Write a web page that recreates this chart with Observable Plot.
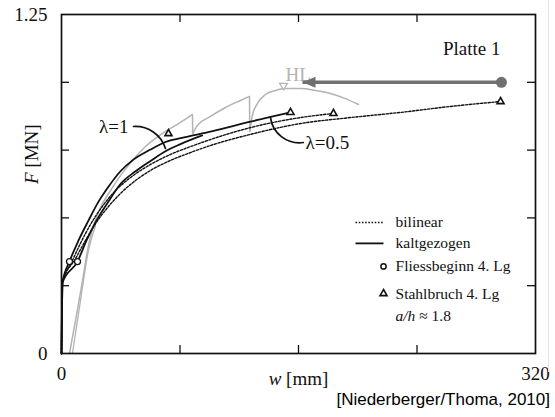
<!DOCTYPE html>
<html><head><meta charset="utf-8">
<script src="https://cdn.jsdelivr.net/npm/d3@7"></script>
<script src="https://cdn.jsdelivr.net/npm/@observablehq/plot@0.6"></script>
<style>
body{margin:0;background:#fff;width:555px;height:417px;overflow:hidden;position:relative}
#cap{position:absolute;top:390px;right:5px;font:17px "Liberation Sans",Arial,sans-serif;line-height:20px;color:#000;white-space:nowrap}
#edge{position:absolute;left:548px;top:0;width:1px;height:372px;background:#e4e4e4}
</style></head><body>
<div id="chart"></div><div id="edge"></div><div id="cap">[Niederberger/Thoma, 2010]</div>
<script>
// ---- data (w in mm, F in MN) ----
const kaltLambda1 = [[0,0],[0.7,0.262],[5.4,0.339],[11.5,0.417],[18.2,0.490],[25.0,0.560],[31.7,0.615],[39.8,0.672],[47.9,0.712],[60.1,0.752],[70.2,0.780],[83.7,0.798],[100.6,0.818],[127.6,0.855],[154.6,0.889]];
const kaltLambda05 = [[0,0],[0.7,0.262],[10.8,0.339],[16.9,0.417],[23.6,0.490],[31.1,0.555],[39.8,0.625],[50.0,0.672],[60.1,0.710],[70.2,0.746],[80.3,0.772],[95.0,0.804]];
const bilinLambda1 = [[0,0],[0.7,0.262],[6.8,0.336],[12.8,0.406],[19.6,0.476],[27.0,0.538],[35.8,0.597],[46.6,0.649],[60.1,0.697],[73.6,0.734],[87.1,0.763],[100.6,0.789],[127.6,0.833],[161.4,0.870],[183.6,0.885]];
const bilinLambda05 = [[0,0],[0.7,0.262],[9.5,0.350],[16.2,0.417],[23.0,0.479],[31.1,0.538],[39.8,0.590],[50.0,0.638],[60.1,0.675],[73.6,0.712],[87.1,0.741],[100.6,0.767],[127.6,0.808],[161.4,0.848],[195.1,0.870],[228.9,0.889],[262.6,0.911],[296.4,0.929]];
// experiment (grey): three loading branches separated by steel ruptures
const versuch1 = [[5.4,0],[9.5,0.122],[14.2,0.269],[18.2,0.398],[21.6,0.472],[26.3,0.538],[33.1,0.601],[39.8,0.656],[47.9,0.712],[56.7,0.763],[70.2,0.819],[80.3,0.852],[88.4,0.881]];
const versuch2 = [[88.6,0.811],[91.8,0.841],[100.6,0.874],[110.7,0.907],[120.8,0.933],[126.9,0.948]];
const versuch3 = [[127.1,0.819],[128.9,0.878],[132.3,0.922],[137.7,0.955],[144.5,0.970],[151.2,0.977],[161.4,0.977],[171.5,0.970],[181.6,0.959],[191.7,0.940],[200.5,0.918]];
const versuchDrops = [[88.4,0.881,88.6,0.811],[126.9,0.948,127.1,0.819]];
const versuchB = [[7.4,0],[12.8,0.195],[18.2,0.380],[23.0,0.472]];
const fliessbeginn = [[5.4,0.339],[10.8,0.339]];
const stahlbruch = [[72.2,0.811],[154.6,0.889],[183.6,0.885],[296.4,0.929]];
const hlPoint = [[149.9,0.985]];
const hlArrow = {from:[297.0,1.0], to:[162.7,1.0]};
const xTicks = [80,160,240];
const yTicks = [0.25,0.5,0.75,1.0];
const xTickLabels = [0,320];
const yTickLabels = [0,1.25];
const legendLabels = ["bilinear","kaltgezogen","Fliessbeginn 4. Lg","Stahlbruch 4. Lg","a/h ≈ 1.8"];

// ---- layout (annotation positions in data units) ----
const LEG = {x1:198.5, x2:217.4, xText:225.5, rows:[0.483,0.406,0.321,0.221,0.140]};
const rows = p => p.map(([w,F]) => ({w,F}));
const W = 555, H = 390, ML = 61, MR = 20, MT = 14, MB = 37;
const IW = W-ML-MR, IH = H-MT-MB, TL = 8;

const leftTri = {draw(c){c.moveTo(0,0);c.lineTo(13,-5.5);c.lineTo(13,5.5);c.closePath();}};
const downTri = {draw(c){c.moveTo(-4,-3);c.lineTo(4,-3);c.lineTo(0,3.5);c.closePath();}};

const grey = "#b3b3b3", arrowGrey = "#707070";
const dash = "2.2,1.6";
const C = "monotone-x";

const plot = Plot.plot({
  width: W, height: H,
  marginLeft: ML, marginRight: MR, marginTop: MT, marginBottom: MB,
  x: {domain:[0,320]}, y: {domain:[0,1.25]},
  style: {fontFamily:"'Liberation Serif','Times New Roman',serif", fontSize:"19px", color:"#111", background:"#fff"},
  marks: [
    Plot.line(rows(versuch1), {x:"w", y:"F", stroke:grey, strokeWidth:1.5, curve:C}),
    Plot.line(rows(versuch2), {x:"w", y:"F", stroke:grey, strokeWidth:1.5, curve:C}),
    Plot.line(rows(versuch3), {x:"w", y:"F", stroke:grey, strokeWidth:1.5, curve:C}),
    Plot.link(versuchDrops, {x1:d=>d[0], y1:d=>d[1], x2:d=>d[2], y2:d=>d[3], stroke:grey, strokeWidth:1.5}),
    Plot.line(rows(versuchB), {x:"w", y:"F", stroke:grey, strokeWidth:1.3, curve:C}),
    Plot.line(rows(bilinLambda1), {x:"w", y:"F", stroke:"#111", strokeWidth:1.4, strokeDasharray:dash, curve:C}),
    Plot.line(rows(bilinLambda05), {x:"w", y:"F", stroke:"#111", strokeWidth:1.4, strokeDasharray:dash, curve:C}),
    Plot.line(rows(kaltLambda05), {x:"w", y:"F", stroke:"#111", strokeWidth:1.8, curve:C}),
    Plot.line(rows(kaltLambda1), {x:"w", y:"F", stroke:"#111", strokeWidth:1.8, curve:C}),
    Plot.dot(rows(fliessbeginn), {x:"w", y:"F", r:3, fill:"#fff", stroke:"#111", strokeWidth:1.3}),
    Plot.dot(rows(stahlbruch), {x:"w", y:"F", symbol:"triangle", r:2.6, fill:"#fff", stroke:"#111", strokeWidth:1.6}),
    // HL marker and arrow
    Plot.dot(rows(hlPoint), {x:"w", y:"F", symbol:downTri, fill:"#fff", stroke:grey, strokeWidth:1.2}),
    Plot.text(rows(hlPoint), {x:"w", y:"F", text:()=>"HL", fill:grey, textAnchor:"start", dx:2, dy:-11, fontSize:19}),
    Plot.link([hlArrow], {x1:d=>d.from[0], y1:d=>d.from[1], x2:d=>d.to[0], y2:d=>d.to[1], stroke:arrowGrey, strokeWidth:3.5, insetEnd:8}),
    Plot.dot([hlArrow.to], {x:d=>d[0], y:d=>d[1], symbol:leftTri, fill:arrowGrey}),
    Plot.dot([hlArrow.from], {x:d=>d[0], y:d=>d[1], r:5.5, fill:arrowGrey}),
    // lambda labels
    Plot.text([{w:45.2,F:0.837,t:"λ=1"}], {x:"w", y:"F", text:"t", textAnchor:"end"}),
    Plot.arrow([{x1:48.6,y1:0.837,x2:70.2,y2:0.756}], {x1:"x1",y1:"y1",x2:"x2",y2:"y2", bend:38, headLength:0, stroke:"#111", strokeWidth:1.7}),
    Plot.text([{w:164.7,F:0.778,t:"λ=0.5"}], {x:"w", y:"F", text:"t", textAnchor:"start"}),
    Plot.arrow([{x1:141.1,y1:0.870,x2:163.2,y2:0.778}], {x1:"x1",y1:"y1",x2:"x2",y2:"y2", bend:-45, headLength:0, stroke:"#111", strokeWidth:1.7}),
    // Platte 1
    Plot.text(["Platte 1"], {frameAnchor:"top-right", dx:-35, dy:34, lineAnchor:"middle", textAnchor:"end", fontSize:19}),
    // legend
    Plot.link([0], {x1:()=>LEG.x1, x2:()=>LEG.x2, y1:()=>LEG.rows[0], y2:()=>LEG.rows[0], stroke:"#111", strokeWidth:1.3, strokeDasharray:"1.6,1.6"}),
    Plot.link([0], {x1:()=>LEG.x1, x2:()=>LEG.x2, y1:()=>LEG.rows[1], y2:()=>LEG.rows[1], stroke:"#111", strokeWidth:1.8}),
    Plot.dot([0], {x:()=>LEG.x2, y:()=>LEG.rows[2], r:2.6, fill:"#fff", stroke:"#111", strokeWidth:1.5}),
    Plot.dot([0], {x:()=>LEG.x2, y:()=>LEG.rows[3], symbol:"triangle", r:2.6, fill:"#fff", stroke:"#111", strokeWidth:1.6}),
    Plot.text(legendLabels, {x:()=>LEG.xText, y:(d,i)=>LEG.rows[i], text:d=>d, textAnchor:"start", fontSize:15.5}),
    // ticks (inward, all four sides)
    Plot.tickY(yTicks, {y:d=>d, insetRight:IW-TL, stroke:"#111", strokeWidth:1.3}),
    Plot.tickY(yTicks, {y:d=>d, insetLeft:IW-TL, stroke:"#111", strokeWidth:1.3}),
    Plot.tickX(xTicks, {x:d=>d, insetTop:IH-TL, stroke:"#111", strokeWidth:1.3}),
    Plot.tickX(xTicks, {x:d=>d, insetBottom:IH-TL, stroke:"#111", strokeWidth:1.3}),
    Plot.frame({stroke:"#111", strokeWidth:1.7}),
    Plot.axisX(xTickLabels, {tickSize:0, tickPadding:13, label:null, fontSize:19}),
    Plot.axisY(yTickLabels, {tickSize:0, tickPadding:14, label:null, fontSize:19, tickFormat:d=>String(d)}),
    Plot.text(["w [mm]"], {frameAnchor:"bottom", dy:25, lineAnchor:"middle", fontSize:19}),
    Plot.text(["F [MN]"], {frameAnchor:"left", dx:-30, rotate:-90, fontSize:19})
  ]
});
document.getElementById("chart").appendChild(plot);

// italic parts of labels
function italicize(full, ital, rest){
  plot.querySelectorAll("text").forEach(t => {
    if (t.textContent === full) {
      const host = t.querySelector("tspan") || t;
      host.textContent = "";
      const a = document.createElementNS("http://www.w3.org/2000/svg","tspan");
      a.setAttribute("font-style","italic"); a.textContent = ital;
      const b = document.createElementNS("http://www.w3.org/2000/svg","tspan");
      b.textContent = rest;
      host.appendChild(a); host.appendChild(b);
    }
  });
}
italicize("w [mm]","w"," [mm]");
italicize("F [MN]","F"," [MN]");
italicize("a/h ≈ 1.8","a/h"," ≈ 1.8");
</script>
</body></html>
